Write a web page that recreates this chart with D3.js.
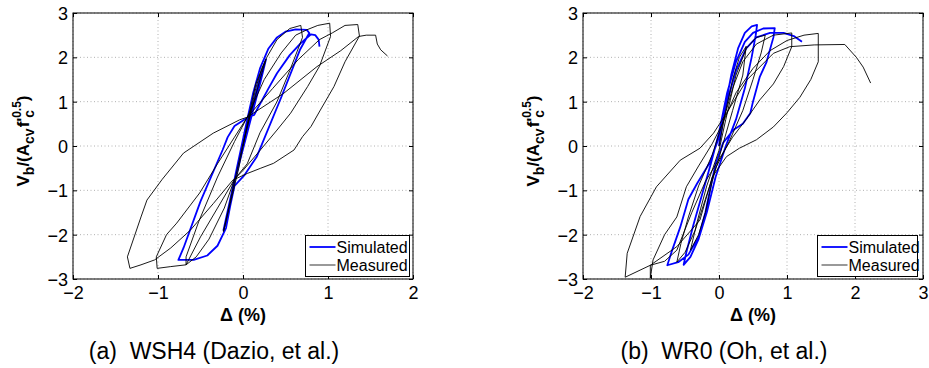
<!DOCTYPE html>
<html><head><meta charset="utf-8">
<script src="https://cdn.jsdelivr.net/npm/d3@7"></script>
<style>body{margin:0;background:#fff}svg text{font-family:"Liberation Sans",Arial,Helvetica,sans-serif}</style>
</head><body><svg id="c" width="929" height="368"></svg>
<script>
// ---------- data ----------
const xTicksA = [-2, -1, 0, 1, 2];
const xTicksB = [-2, -1, 0, 1, 2, 3];
const yTicks = [-3, -2, -1, 0, 1, 2, 3];
const legendLabels = ["Simulated", "Measured"];
const captions = ["(a)\u00a0 WSH4 (Dazio, et al.)", "(b)\u00a0 WR0 (Oh, et al.)"];

// WSH4 (Dazio) - drift (%) vs normalized shear
const wsh4Simulated = [
[0,0],[0.1,0.8],[0.2,1.55],[0.27,1.95],[0.2,1.4],[0.05,0.3],[-0.1,-0.8],[-0.18,-1.5],[-0.23,-1.9],[-0.15,-1.2],[-0.05,-0.3],[0.05,0.6],
[0.12,1.2],[0.2,1.75],[0.3,2.2],[0.4,2.45],[0.5,2.58],[0.62,2.63],[0.75,2.62],[0.78,2.55],
[0.67,2.17],[0.45,1.1],[0.16,-0.25],[0.02,-0.65],[-0.1,-0.9],[-0.15,-1.35],[-0.2,-1.85],[-0.3,-2.25],[-0.42,-2.47],[-0.58,-2.57],[-0.76,-2.57],
[-0.7,-2.3],[-0.5,-1.25],[-0.24,-0.09],[-0.18,0.2],[-0.1,0.45],[0.05,0.64],[0.13,0.7],[0.3,1.3],[0.4,1.64],[0.55,2.05],[0.68,2.32],[0.8,2.52],
[0.85,2.5],[0.89,2.4],[0.9,2.24]
];
const wsh4Measured = [
[0,0],[0.08,0.7],[0.15,1.3],[0.22,1.75],[0.27,1.95],[0.2,1.5],[0.1,0.8],[0.0,0.05],[-0.1,-0.8],[-0.18,-1.5],[-0.23,-1.93],[-0.15,-1.3],[-0.05,-0.5],[0.05,0.5],
[0.15,1.4],[0.28,2.0],[0.4,2.4],[0.55,2.65],[0.68,2.72],[0.7,2.45],[0.55,1.7],[0.4,1.0],[0.2,0.3],[0.05,-0.4],[-0.1,-0.75],[-0.22,-1.4],[-0.4,-2.1],[-0.55,-2.5],[-0.67,-2.68],[-0.67,-2.5],[-0.52,-1.7],[-0.3,-0.7],[-0.1,0.1],[0.05,0.65],[0.25,1.5],[0.45,2.1],[0.62,2.5],[0.75,2.62],
[0.88,2.72],[1.02,2.77],[1.03,2.47],[0.9,1.8],[0.76,1.34],[0.56,0.74],[0.4,0.36],[0.2,-0.1],[0.0,-0.55],[-0.1,-0.75],[-0.3,-1.4],[-0.5,-2.05],[-0.67,-2.68],[-0.85,-2.72],[-1.01,-2.76],[-1.02,-2.5],[-0.9,-2.0],[-0.78,-1.74],[-0.51,-1.06],[-0.3,-0.4],[-0.1,0.2],[0.05,0.65],[0.35,1.3],[0.65,1.95],[0.9,2.4],[1.05,2.55],
[1.2,2.72],[1.35,2.74],[1.37,2.48],[1.2,1.9],[1.07,1.34],[0.91,0.81],[0.8,0.44],[0.7,0.21],[0.6,-0.09],[0.36,-0.39],[0.21,-0.5],[0.05,-0.62],[-0.12,-0.77],[-0.35,-1.3],[-0.62,-1.9],[-0.85,-2.3],[-1.04,-2.57],[-1.2,-2.68],[-1.33,-2.76],[-1.36,-2.5],[-1.2,-1.6],[-1.13,-1.22],[-0.95,-0.75],[-0.7,-0.16],[-0.35,0.29],[-0.04,0.59],[0.05,0.65],[0.48,1.19],[0.87,1.79],[1.15,2.15],[1.36,2.47],[1.45,2.5],[1.56,2.5],[1.58,2.3],[1.62,2.17],[1.7,2.03]
];

// WR0 (Oh) - drift (%) vs normalized shear
const wr0Simulated = [
[0,0],[0.08,0.8],[0.18,1.6],[0.28,2.2],[0.38,2.55],[0.48,2.7],[0.56,2.73],[0.54,2.5],[0.48,2.0],[0.38,1.3],[0.25,0.6],[0.1,0.0],[-0.05,-0.7],[-0.18,-1.5],[-0.3,-2.1],[-0.42,-2.5],[-0.52,-2.68],[-0.48,-2.4],[-0.38,-1.8],[-0.25,-1.1],[-0.12,-0.4],[0.0,0.3],[0.12,1.2],[0.25,1.9],[0.38,2.35],[0.5,2.55],[0.65,2.65],[0.82,2.66],[0.8,2.45],[0.7,1.9],[0.6,1.56],[0.5,1.0],[0.46,0.74],[0.35,0.5],[0.21,0.36],[0.06,0.07],[-0.05,-0.4],[-0.12,-0.9],[-0.2,-1.5],[-0.3,-2.05],[-0.45,-2.45],[-0.6,-2.62],[-0.76,-2.69],[-0.7,-2.4],[-0.57,-1.83],[-0.45,-1.2],[-0.32,-0.84],[-0.13,-0.36],[0.0,0.2],[0.12,1.0],[0.25,1.7],[0.4,2.2],[0.55,2.45],[0.75,2.55],[0.95,2.55],[1.1,2.48],[1.22,2.35]
];
const wr0Measured = [
[0,0],[0.1,0.8],[0.2,1.5],[0.3,2.0],[0.4,2.25],[0.35,1.6],[0.2,0.8],[0.05,0.0],[-0.1,-0.8],[-0.2,-1.5],[-0.3,-2.0],[-0.42,-2.35],[-0.32,-1.7],[-0.18,-0.9],[0.0,-0.1],[0.1,0.6],
[0.25,1.6],[0.4,2.2],[0.55,2.45],[0.68,2.5],[0.62,2.1],[0.5,1.5],[0.35,0.8],[0.15,0.1],[-0.05,-0.5],[-0.2,-1.2],[-0.35,-1.9],[-0.5,-2.4],[-0.62,-2.62],[-0.56,-2.2],[-0.45,-1.6],[-0.3,-0.9],[-0.1,-0.2],[0.05,0.5],[0.2,1.3],
[0.35,1.9],[0.55,2.3],[0.8,2.5],[1.07,2.55],[1.07,2.24],[0.95,1.79],[0.8,1.4],[0.6,1.04],[0.4,0.6],[0.2,0.2],[0.0,-0.3],[-0.2,-0.8],[-0.4,-1.5],[-0.62,-2.35],[-0.8,-2.6],[-1.01,-2.69],[-1.01,-2.98],[-0.97,-2.57],[-0.8,-2.0],[-0.62,-1.6],[-0.48,-0.92],[-0.3,-0.45],[-0.1,0.05],[0.05,0.5],[0.25,1.2],[0.5,1.75],[0.75,2.15],[1.0,2.38],[1.25,2.5],[1.46,2.54],
[1.46,1.9],[1.35,1.5],[1.19,1.1],[1.0,0.75],[0.8,0.43],[0.55,0.14],[0.3,-0.05],[0.11,-0.24],[-0.1,-0.7],[-0.28,-1.67],[-0.62,-2.27],[-1.01,-2.69],[-1.38,-2.96],
[-1.35,-2.42],[-1.16,-1.59],[-0.92,-0.92],[-0.57,-0.32],[-0.28,-0.05],[-0.08,0.29],[0.11,0.74],[0.41,1.49],[0.8,2.09],[1.04,2.24],[1.4,2.28],[1.85,2.29],[2.02,2.0],[2.12,1.78],[2.23,1.42]
];

// ---------- drawing ----------
const svg = d3.select("#c");
const y = d3.scaleLinear().domain([-3, 3]).range([279, 13]);
const fmt = d3.format("d");

function panel(opts) {
  const { x, xTicks, sim, meas, legendBox, caption } = opts;
  const g = svg.append("g");
  const [x0, x1] = x.range();
  const [yb, yt] = y.range();

  // grid
  g.append("g").selectAll("line").data(xTicks).join("line")
    .attr("x1", d => x(d)).attr("x2", d => x(d)).attr("y1", yt).attr("y2", yb)
    .attr("stroke", "#b0b0b0").attr("stroke-width", 1).attr("stroke-dasharray", "1,2.5");
  g.append("g").selectAll("line").data(yTicks).join("line")
    .attr("y1", d => y(d)).attr("y2", d => y(d)).attr("x1", x0).attr("x2", x1)
    .attr("stroke", "#b0b0b0").attr("stroke-width", 1).attr("stroke-dasharray", "1,2.5");

  // axes (inward ticks, MATLAB style)
  const tick = 4;
  const bottom = d3.axisBottom(x).tickValues(xTicks).tickSizeInner(-tick).tickSizeOuter(0).tickFormat(fmt);
  const gb = g.append("g").attr("transform", `translate(0,${yb})`).call(bottom);
  gb.select(".domain").remove();
  gb.selectAll(".tick text").attr("y", 20).attr("dy", 0).attr("font-size", 18).attr("fill", "#000")
    .style("font-family", '"Liberation Sans",Arial,sans-serif');
  gb.selectAll(".tick line").attr("stroke", "#000");
  const top = d3.axisTop(x).tickValues(xTicks).tickSizeInner(-tick).tickSizeOuter(0).tickFormat("");
  const gt = g.append("g").attr("transform", `translate(0,${yt})`).call(top);
  gt.select(".domain").remove();
  const left = d3.axisLeft(y).tickValues(yTicks).tickSizeInner(-tick).tickSizeOuter(0).tickFormat(fmt);
  const gl = g.append("g").attr("transform", `translate(${x0},0)`).call(left);
  gl.select(".domain").remove();
  gl.selectAll(".tick text").attr("x", -5).attr("dy", "0.36em").attr("font-size", 18).attr("fill", "#000")
    .style("font-family", '"Liberation Sans",Arial,sans-serif');
  const right = d3.axisRight(y).tickValues(yTicks).tickSizeInner(-tick).tickSizeOuter(0).tickFormat("");
  const gr = g.append("g").attr("transform", `translate(${x1},0)`).call(right);
  gr.select(".domain").remove();

  // curves
  const line = d3.line().x(d => x(d[0])).y(d => y(d[1]));
  g.append("path").datum(sim).attr("d", line).attr("fill", "none")
    .attr("stroke", "#0000ff").attr("stroke-width", 1.8).attr("stroke-linejoin", "round");
  g.append("path").datum(meas).attr("d", line).attr("fill", "none")
    .attr("stroke", "#000").attr("stroke-width", 0.9).attr("stroke-linejoin", "round");

  // box
  g.append("rect").attr("x", x0).attr("y", yt).attr("width", x1 - x0).attr("height", yb - yt)
    .attr("fill", "none").attr("stroke", "#000").attr("stroke-width", 1);

  // legend
  const lg = g.append("g");
  lg.append("rect").attr("x", legendBox.x).attr("y", 235.5).attr("width", legendBox.w).attr("height", 41)
    .attr("fill", "#fff").attr("stroke", "#000").attr("stroke-width", 1);
  const colors = ["#0000ff", "#555"];
  const widths = [1.8, 1.2];
  const rows = lg.selectAll("g").data(legendLabels).join("g")
    .attr("transform", (d, i) => `translate(${legendBox.x},${247 + i * 18})`);
  rows.append("line").attr("x1", 4).attr("x2", 30).attr("y1", 0).attr("y2", 0)
    .attr("stroke", (d, i) => colors[i]).attr("stroke-width", (d, i) => widths[i]);
  rows.append("text").attr("x", 31).attr("y", 6).attr("font-size", 16).attr("fill", "#000").text(d => d);

  // axis labels
  const xc = (x0 + x1) / 2;
  g.append("text").attr("x", xc).attr("y", 321).attr("text-anchor", "middle")
    .attr("font-size", 18).attr("font-weight", "bold").text("\u0394 (%)");

  const yl = g.append("text").attr("transform", `translate(${x0 - 44},141) rotate(-90)`)
    .attr("text-anchor", "middle").attr("font-size", 17).attr("font-weight", "bold");
  yl.append("tspan").text("V");
  yl.append("tspan").attr("font-size", 14).attr("dy", 5).text("b");
  yl.append("tspan").attr("dy", -5).text("/(A");
  yl.append("tspan").attr("font-size", 14).attr("dy", 5).text("cv");
  yl.append("tspan").attr("dy", -5).attr("dx", 1).text("f'");
  yl.append("tspan").attr("font-size", 14).attr("dy", 5).text("c");
  yl.append("tspan").attr("font-size", 12).attr("dx", -8).attr("dy", -13).text("0.5");
  yl.append("tspan").attr("dy", 8).text(")");

  // caption
  g.append("text").attr("x", x0 + 141).attr("y", 359).attr("text-anchor", "middle")
    .attr("font-size", 23).text(caption);
}

panel({ x: d3.scaleLinear().domain([-2, 2]).range([73, 413]), xTicks: xTicksA,
  sim: wsh4Simulated, meas: wsh4Measured, legendBox: { x: 305.5, w: 104 }, caption: captions[0] });
panel({ x: d3.scaleLinear().domain([-2, 3]).range([583, 923]), xTicks: xTicksB,
  sim: wr0Simulated, meas: wr0Measured, legendBox: { x: 817.5, w: 100 }, caption: captions[1] });
</script>
</body></html>
